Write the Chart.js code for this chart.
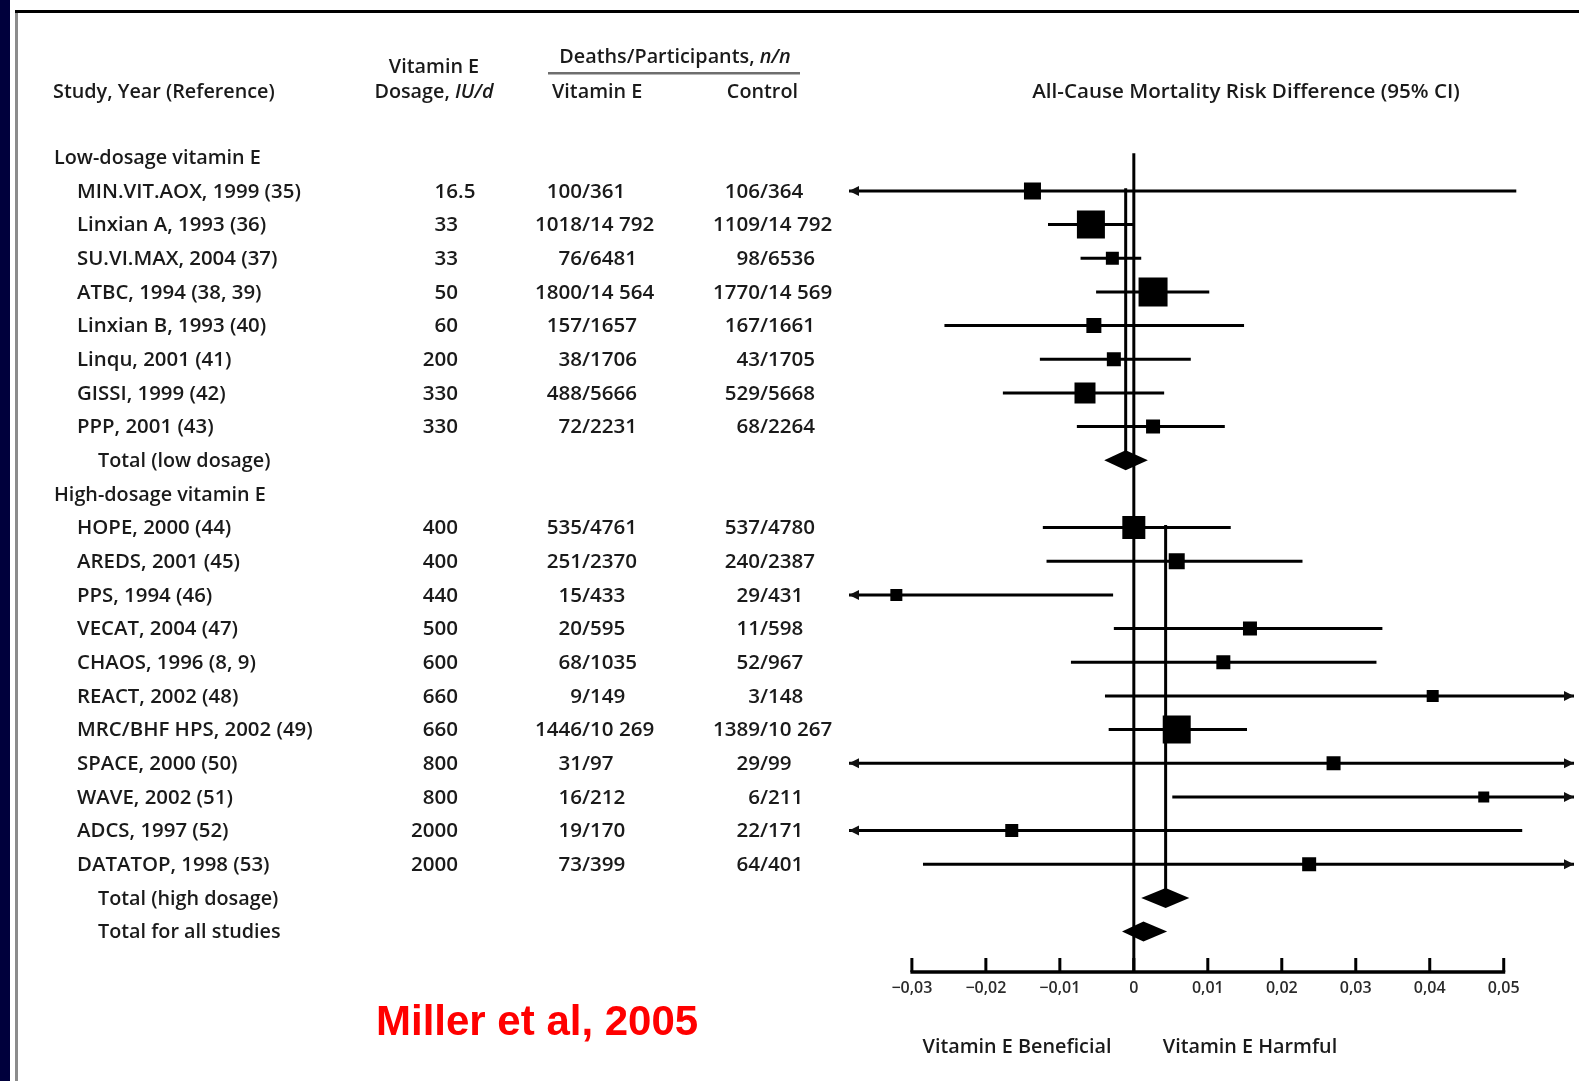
<!DOCTYPE html>
<html>
<head>
<meta charset="utf-8">
<title>Vitamin E and all-cause mortality</title>
<script src="https://cdn.jsdelivr.net/npm/chart.js@4.4.0/dist/chart.umd.min.js"></script>
<style>
  html, body { margin: 0; padding: 0; background: #fff; }
  canvas { display: block; }
</style>
</head>
<body>
<canvas id="forestChart" width="1579" height="1081"></canvas>
<script>
// trials, low dosage first, then high dosage
const studyNames = [
    'MIN.VIT.AOX, 1999 (35)', 'Linxian A, 1993 (36)', 'SU.VI.MAX, 2004 (37)', 'ATBC, 1994 (38, 39)',
    'Linxian B, 1993 (40)', 'Linqu, 2001 (41)', 'GISSI, 1999 (42)', 'PPP, 2001 (43)',
    'HOPE, 2000 (44)', 'AREDS, 2001 (45)', 'PPS, 1994 (46)', 'VECAT, 2004 (47)', 'CHAOS, 1996 (8, 9)',
    'REACT, 2002 (48)', 'MRC/BHF HPS, 2002 (49)', 'SPACE, 2000 (50)', 'WAVE, 2002 (51)',
    'ADCS, 1997 (52)', 'DATATOP, 1998 (53)'
];
const studyGroup = ['low', 'low', 'low', 'low', 'low', 'low', 'low', 'low',
    'high', 'high', 'high', 'high', 'high', 'high', 'high', 'high', 'high', 'high', 'high'];
const dosageIU = ['16.5', '33', '33', '50', '60', '200', '330', '330',
    '400', '400', '440', '500', '600', '660', '660', '800', '800', '2000', '2000'];
const vitaminEDeaths = ['100/361', '1018/14 792', '76/6481', '1800/14 564', '157/1657', '38/1706', '488/5666', '72/2231',
    '535/4761', '251/2370', '15/433', '20/595', '68/1035', '9/149', '1446/10 269', '31/97', '16/212', '19/170', '73/399'];
const controlDeaths = ['106/364', '1109/14 792', '98/6536', '1770/14 569', '167/1661', '43/1705', '529/5668', '68/2264',
    '537/4780', '240/2387', '29/431', '11/598', '52/967', '3/148', '1389/10 267', '29/99', '6/211', '22/171', '64/401'];

// risk difference and 95% CI (values past the axis end are drawn as arrows)
const riskDiff = [-0.0137, -0.0058, -0.0029, 0.0026, -0.0054, -0.0027, -0.0066, 0.0026,
    0.0000, 0.0058, -0.0321, 0.0157, 0.0121, 0.0404, 0.0058, 0.0270, 0.0473, -0.0165, 0.0237];
const ciLower = [-0.080, -0.0116, -0.0072, -0.0051, -0.0256, -0.0127, -0.0177, -0.0077,
    -0.0123, -0.0118, -0.062, -0.0027, -0.0085, -0.0039, -0.0034, -0.102, 0.0052, -0.087, -0.0285];
const ciUpper = [0.0517, -0.0001, 0.0010, 0.0102, 0.0149, 0.0077, 0.0041, 0.0123,
    0.0131, 0.0228, -0.0028, 0.0336, 0.0328, 0.085, 0.0153, 0.156, 0.090, 0.0525, 0.076];
const weights = [17, 28, 13, 29, 15, 14, 21, 14, 23, 16, 12, 14, 14, 12, 28, 14, 11, 13, 14];

const groupTitles = ['Low-dosage vitamin E', 'High-dosage vitamin E'];
const totalNames = ['Total (low dosage)', 'Total (high dosage)', 'Total for all studies'];
const totalDiff = [-0.0011, 0.0043, 0.0013];
const totalLower = [-0.0040, 0.0010, -0.0016];
const totalUpper = [0.0019, 0.0075, 0.0045];

const tickValues = [-0.03, -0.02, -0.01, 0, 0.01, 0.02, 0.03, 0.04, 0.05];
const tickLabels = ['\u22120,03', '\u22120,02', '\u22120,01', '0', '0,01', '0,02', '0,03', '0,04', '0,05'];

// row layout: group title, studies, total ... then overall total
const rows = [];
const studyRow = [];
const totalRow = [];
['low', 'high'].forEach((g, gi) => {
    rows.push({ kind: 'group', text: groupTitles[gi] });
    studyNames.forEach((name, i) => {
        if (studyGroup[i] === g) {
            studyRow[i] = rows.length;
            rows.push({ kind: 'study', idx: i });
        }
    });
    totalRow[gi] = rows.length;
    rows.push({ kind: 'total', idx: gi });
});
totalRow[2] = rows.length;
rows.push({ kind: 'total', idx: 2 });

const FONT = "'Open Sans', 'DejaVu Sans', sans-serif";
const TEXT_SIZE = 19.8;
const NAME_SIZE = 20.4;
const NUM_SIZE = 20.6;
const textColor = '#1a1a1a';
const TEXT_DY = 1;

function setFont(ctx, italic, size) {
    ctx.font = (italic ? 'italic ' : '') + '600 ' + (size || TEXT_SIZE) + 'px ' + FONT;
}

function drawMixed(ctx, parts, cx, y) {
    let total = 0;
    parts.forEach(p => { setFont(ctx, p.italic); total += ctx.measureText(p.t).width; });
    let x = cx - total / 2;
    ctx.textAlign = 'left';
    parts.forEach(p => {
        setFont(ctx, p.italic);
        ctx.fillText(p.t, x, y);
        x += ctx.measureText(p.t).width;
    });
}

function drawSplit(ctx, s, sep, x, y) {
    const k = s.indexOf(sep);
    const left = k < 0 ? s : s.slice(0, k);
    const right = k < 0 ? '' : s.slice(k);
    ctx.textAlign = 'right';
    ctx.fillText(left, x, y);
    ctx.textAlign = 'left';
    ctx.fillText(right, x, y);
}

const forestPlugin = {
    id: 'forestPlugin',
    beforeDraw(chart) {
        const ctx = chart.ctx;
        ctx.save();
        ctx.fillStyle = '#fff';
        ctx.fillRect(0, 0, chart.width, chart.height);
        ctx.fillStyle = '#00003c';
        ctx.fillRect(0, 0, 10, chart.height);
        ctx.fillStyle = '#8c8c8c';
        ctx.fillRect(15, 11, 3, chart.height - 11);
        ctx.fillStyle = '#000';
        ctx.fillRect(15, 10, chart.width - 15, 3);
        ctx.restore();
    },
    beforeDatasetsDraw(chart) {
        const ctx = chart.ctx;
        const xs = chart.scales.x, ys = chart.scales.y;
        ctx.save();
        ctx.strokeStyle = '#000';
        ctx.lineWidth = 3;
        // line of no effect
        ctx.beginPath();
        ctx.moveTo(xs.getPixelForValue(0), ys.getPixelForValue(-0.12));
        ctx.lineTo(xs.getPixelForValue(0), chart.chartArea.bottom);
        ctx.stroke();
        // pooled estimate lines per dosage group
        [0, 1].forEach(gi => {
            const first = studyRow[studyGroup.indexOf(gi === 0 ? 'low' : 'high')];
            const px = xs.getPixelForValue(totalDiff[gi]);
            ctx.beginPath();
            ctx.moveTo(px, ys.getPixelForValue(first - 0.08));
            ctx.lineTo(px, ys.getPixelForValue(totalRow[gi]));
            ctx.stroke();
        });
        ctx.restore();
    },
    afterDatasetsDraw(chart) {
        const ctx = chart.ctx;
        const xs = chart.scales.x, ys = chart.scales.y;
        const area = chart.chartArea;
        ctx.save();
        ctx.fillStyle = '#111';
        // arrows for intervals running off the axis
        studyNames.forEach((n, i) => {
            const y = ys.getPixelForValue(studyRow[i]);
            if (ciLower[i] < xs.min) {
                ctx.beginPath();
                ctx.moveTo(area.left, y);
                ctx.lineTo(area.left + 10, y - 5);
                ctx.lineTo(area.left + 10, y + 5);
                ctx.closePath();
                ctx.fill();
            }
            if (ciUpper[i] > xs.max) {
                ctx.beginPath();
                ctx.moveTo(area.right, y);
                ctx.lineTo(area.right - 10, y - 5);
                ctx.lineTo(area.right - 10, y + 5);
                ctx.closePath();
                ctx.fill();
            }
        });
        // pooled diamonds
        ctx.fillStyle = '#000';
        totalDiff.forEach((d, k) => {
            const y = ys.getPixelForValue(totalRow[k]);
            ctx.beginPath();
            ctx.moveTo(xs.getPixelForValue(totalLower[k]), y);
            ctx.lineTo(xs.getPixelForValue(d), y - 10);
            ctx.lineTo(xs.getPixelForValue(totalUpper[k]), y);
            ctx.lineTo(xs.getPixelForValue(d), y + 10);
            ctx.closePath();
            ctx.fill();
        });
        // axis line with upward tick marks
        const yb = area.bottom;
        ctx.strokeStyle = '#000';
        ctx.lineWidth = 3.5;
        ctx.beginPath();
        ctx.moveTo(xs.getPixelForValue(tickValues[0]) - 1.5, yb);
        ctx.lineTo(xs.getPixelForValue(tickValues[tickValues.length - 1]) + 1.5, yb);
        ctx.stroke();
        ctx.lineWidth = 3;
        tickValues.forEach(v => {
            const px = xs.getPixelForValue(v);
            ctx.beginPath();
            ctx.moveTo(px, yb);
            ctx.lineTo(px, yb - 14);
            ctx.stroke();
        });
        ctx.restore();
    },
    afterDraw(chart) {
        const ctx = chart.ctx;
        const ys = chart.scales.y;
        ctx.save();
        ctx.fillStyle = textColor;
        ctx.textBaseline = 'middle';

        // column headers
        setFont(ctx, false);
        ctx.textAlign = 'left';
        ctx.fillText('Study, Year (Reference)', 53, 92);
        ctx.textAlign = 'center';
        ctx.fillText('Vitamin E', 434, 67);
        drawMixed(ctx, [{ t: 'Dosage, ' }, { t: 'IU/d', italic: true }], 434, 92);
        drawMixed(ctx, [{ t: 'Deaths/Participants, ' }, { t: 'n/n', italic: true }], 675, 57);
        setFont(ctx, false);
        ctx.textAlign = 'left';
        ctx.fillText('Vitamin E', 552, 92);
        ctx.textAlign = 'right';
        ctx.fillText('Control', 798, 92);
        ctx.textAlign = 'center';
        setFont(ctx, false, 20.6);
        ctx.fillText('All-Cause Mortality Risk Difference (95% CI)', 1246, 92);
        ctx.fillStyle = '#6e6e6e';
        ctx.fillRect(548, 72, 252, 2.5);
        ctx.fillStyle = textColor;

        // table rows
        rows.forEach((r, ri) => {
            const y = ys.getPixelForValue(ri) + TEXT_DY;
            setFont(ctx, false);
            ctx.textAlign = 'left';
            if (r.kind === 'group') {
                ctx.fillText(r.text, 54, y);
            } else if (r.kind === 'total') {
                ctx.fillText(totalNames[r.idx], 98, y);
            } else {
                const i = r.idx;
                setFont(ctx, false, NAME_SIZE);
                ctx.fillText(studyNames[i], 77, y);
                setFont(ctx, false, NUM_SIZE);
                drawSplit(ctx, dosageIU[i], '.', 458, y);
                drawSplit(ctx, vitaminEDeaths[i], '/', 582, y);
                drawSplit(ctx, controlDeaths[i], '/', 760, y);
            }
        });

        // direction labels under the axis
        setFont(ctx, false);
        ctx.textAlign = 'center';
        ctx.fillText('Vitamin E Beneficial', 1017, 1047);
        ctx.fillText('Vitamin E Harmful', 1250, 1047);

        // citation
        ctx.fillStyle = '#ff0000';
        ctx.font = "bold 42px 'Liberation Sans', Arial, sans-serif";
        ctx.textAlign = 'left';
        ctx.textBaseline = 'alphabetic';
        ctx.fillText('Miller et al, 2005', 376, 1035);
        ctx.restore();
    }
};

const squareData = studyNames.map((n, i) => ({ x: riskDiff[i], y: studyRow[i] }));
const ciDatasets = studyNames.map((n, i) => ({
    type: 'line',
    label: n,
    data: [{ x: ciLower[i], y: studyRow[i] }, { x: ciUpper[i], y: studyRow[i] }],
    borderColor: '#000',
    borderWidth: 3,
    pointRadius: 0,
    fill: false,
    order: 2
}));

new Chart(document.getElementById('forestChart'), {
    type: 'scatter',
    data: {
        datasets: [{
            label: 'Risk difference',
            data: squareData,
            pointStyle: 'rect',
            pointRadius: weights.map(w => w / Math.SQRT2),
            pointBackgroundColor: '#000',
            pointBorderWidth: 0,
            order: 1
        }].concat(ciDatasets)
    },
    options: {
        responsive: false,
        animation: false,
        layout: { autoPadding: false, padding: { left: 849, right: 5, top: 140.4, bottom: 0 } },
        plugins: { legend: { display: false }, tooltip: { enabled: false } },
        scales: {
            x: {
                type: 'linear',
                position: 'bottom',
                min: -0.0385,
                max: 0.0595,
                grid: { display: false, drawTicks: false },
                border: { display: false },
                afterBuildTicks: axis => { axis.ticks = tickValues.map(v => ({ value: v })); },
                afterFit: axis => {
                    axis.height = 109;
                    axis.paddingLeft = 0;
                    axis.paddingRight = 0;
                },
                ticks: {
                    autoSkip: false,
                    maxRotation: 0,
                    padding: 7,
                    color: '#2a2a2a',
                    font: { family: FONT, size: 16, weight: '600' },
                    callback: (value, index) => tickLabels[index]
                }
            },
            y: {
                type: 'linear',
                reverse: true,
                min: -0.5,
                max: 24.2,
                display: false
            }
        }
    },
    plugins: [forestPlugin]
});
</script>
</body>
</html>
